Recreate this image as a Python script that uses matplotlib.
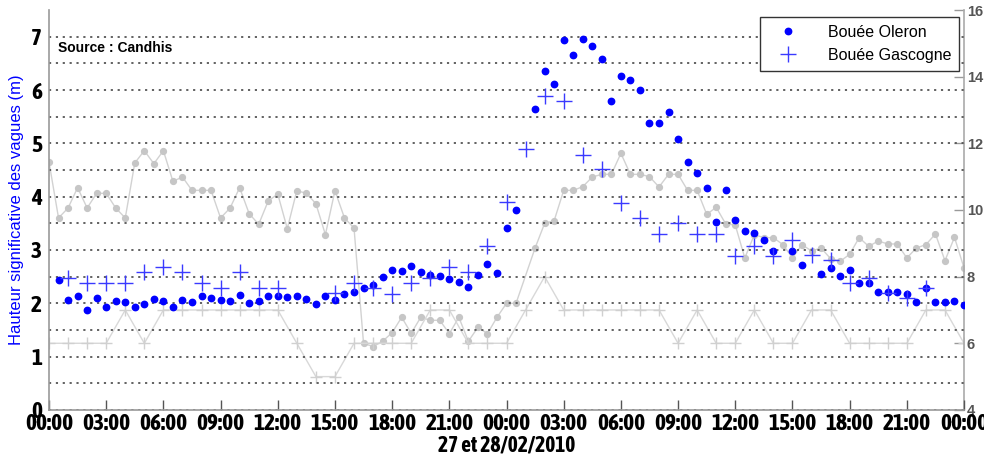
import numpy as np
import matplotlib
matplotlib.use('Agg')
import matplotlib.pyplot as plt
from matplotlib import font_manager
from matplotlib.lines import Line2D

# ---[DATA]---
# Bouee Oleron, hauteur (m), pas de 30 min (quelques trous)
oleron_t = [0.5, 1, 1.5, 2, 2.5, 3, 3.5, 4, 4.5, 5, 5.5, 6, 6.5, 7, 7.5, 8, 8.5, 9, 9.5, 10,
            10.5, 11, 11.5, 12, 12.5, 13, 13.5, 14, 14.5, 15, 15.5, 16, 16.5, 17, 17.5, 18,
            18.5, 19, 19.5, 20, 20.5, 21, 21.5, 22, 22.5, 23, 23.5, 24, 24.5, 25.5, 26, 26.5,
            27, 27.5, 28, 28.5, 29, 29.5, 30, 30.5, 31, 31.5, 32, 32.5, 33, 33.5, 34, 34.5,
            35, 35.5, 36, 36.5, 37, 37.5, 38, 39, 39.5, 40.5, 41, 41.5, 42, 42.5, 43, 43.5,
            44, 44.5, 45, 45.5, 46, 46.5, 47, 47.5, 48]
oleron_h = [2.43, 2.07, 2.14, 1.88, 2.10, 1.93, 2.05, 2.02, 1.93, 1.99, 2.08, 2.05, 1.93, 2.07,
            2.02, 2.13, 2.10, 2.06, 2.05, 2.16, 2.00, 2.05, 2.13, 2.14, 2.11, 2.14, 2.08, 1.98,
            2.13, 2.06, 2.18, 2.22, 2.28, 2.35, 2.49, 2.62, 2.61, 2.70, 2.58, 2.53, 2.51, 2.45,
            2.40, 2.30, 2.53, 2.74, 2.57, 3.41, 3.75, 5.64, 6.35, 6.11, 6.94, 6.65, 6.95, 6.82,
            6.58, 5.79, 6.27, 6.19, 6.00, 5.39, 5.39, 5.58, 5.08, 4.65, 4.44, 4.16, 3.52, 4.12,
            3.57, 3.35, 3.31, 3.18, 2.99, 2.99, 2.71, 2.55, 2.66, 2.52, 2.63, 2.39, 2.39, 2.22,
            2.22, 2.22, 2.18, 2.03, 2.28, 2.03, 2.03, 2.05, 1.97]

# Bouee Gascogne, hauteur (m), pas horaire
gascogne_t = [1, 2, 3, 4, 5, 6, 7, 8, 9, 10, 11, 12, 15, 16, 17, 18, 19, 20, 21, 22, 23, 24,
              25, 26, 27, 28, 29, 30, 31, 32, 33, 34, 35, 36, 37, 38, 39, 40, 41, 42, 43, 44,
              45, 46]
gascogne_h = [2.47, 2.38, 2.38, 2.38, 2.58, 2.69, 2.58, 2.38, 2.28, 2.58, 2.28, 2.29, 2.19,
              2.38, 2.28, 2.18, 2.38, 2.47, 2.69, 2.58, 3.08, 3.90, 4.90, 5.88, 5.80, 4.78,
              4.51, 3.89, 3.60, 3.30, 3.50, 3.30, 3.30, 2.89, 3.08, 2.89, 3.19, 2.90, 2.82,
              2.39, 2.47, 2.19, 2.10, 2.28]

# periode (s), axe de droite - serie grise a ronds
periode1_t = [0, 0.5, 1, 1.5, 2, 2.5, 3, 3.5, 4, 4.5, 5, 5.5, 6, 6.5, 7, 7.5, 8, 8.5, 9, 9.5,
              10, 10.5, 11, 11.5, 12, 12.5, 13, 13.5, 14, 14.5, 15, 15.5, 16, 16.5, 17, 17.5,
              18, 18.5, 19, 19.5, 20, 20.5, 21, 21.5, 22, 22.5, 23, 23.5, 24, 24.5, 25.5, 26,
              26.5, 27, 27.5, 28, 28.5, 29, 29.5, 30, 30.5, 31, 31.5, 32, 32.5, 33, 33.5, 34,
              34.5, 35, 35.5, 36, 36.5, 37, 37.5, 38, 38.5, 39, 39.5, 40, 40.5, 41, 41.5, 42,
              42.5, 43, 43.5, 44, 44.5, 45, 45.5, 46, 46.5, 47, 47.5, 48]
periode1_s = [11.44, 9.76, 10.06, 10.67, 10.06, 10.5, 10.5, 10.06, 9.76, 11.41, 11.78, 11.39,
              11.78, 10.86, 10.99, 10.59, 10.59, 10.59, 9.76, 10.06, 10.67, 9.89, 9.57, 10.27,
              10.48, 9.44, 10.58, 10.5, 10.19, 9.26, 10.58, 9.76, 9.46, 6.0, 5.9, 6.06, 6.32,
              6.78, 6.3, 6.78, 6.69, 6.69, 6.29, 6.78, 6.06, 6.48, 6.29, 6.78, 7.2, 7.2, 8.86,
              9.6, 9.68, 10.59, 10.59, 10.7, 10.99, 11.07, 11.07, 11.7, 11.07, 11.07, 11.0,
              10.69, 11.07, 11.07, 10.59, 10.59, 9.87, 10.08, 9.58, 9.55, 8.56, 9.26, 9.17,
              9.17, 8.96, 8.56, 8.96, 8.77, 8.86, 8.54, 8.46, 8.67, 9.17, 8.91, 9.07, 8.98,
              8.98, 8.56, 8.86, 8.96, 9.28, 8.48, 9.18, 8.26]

# periode (s), axe de droite - serie grise a croix, pas horaire
periode2_t = list(range(0, 49))
periode2_s = [6, 6, 6, 6, 7, 6, 7, 7, 7, 7, 7, 7, 7, 6, 5, 5, 6, 6, 6, 6, 7, 7, 6, 6, 6,
              7, 8, 7, 7, 7, 7, 7, 7, 6, 7, 6, 6, 7, 6, 6, 7, 7, 6, 6, 6, 6, 7, 7, 6]

xticks_h = list(range(0, 49, 3))
xtick_labels = ['00:00', '03:00', '06:00', '09:00', '12:00', '15:00', '18:00', '21:00',
                '00:00', '03:00', '06:00', '09:00', '12:00', '15:00', '18:00', '21:00', '00:00']
right_ticks = [4, 6, 8, 10, 12, 14, 16]
right_labels = ['4', '6', '8', '10', '12', '14', '16']


def pick_narrow():
    # police etroite en gras si dispo, sinon Liberation Sans
    bold = {}
    for f in font_manager.fontManager.ttflist:
        if 'Narrow' in f.name or 'Condensed' in f.name:
            w = f.weight if isinstance(f.weight, int) else 700 if 'bold' in str(f.weight) else 400
            bold[f.name] = max(bold.get(f.name, 0), w)
    best = [n for n in sorted(bold) if bold[n] >= 600]
    if best:
        return [best[0], 'DejaVu Sans'], True
    return ['Liberation Sans', 'DejaVu Sans'], False


narrow, is_narrow = pick_narrow()
tick_fs = 16.8 if is_narrow else 13.5

fig = plt.figure(figsize=(9.84, 4.57), dpi=100)
ax = fig.add_axes([0.0498, 0.103, 0.9299, 0.875])
ax2 = ax.twinx()
ax.set_zorder(ax2.get_zorder() + 1)
ax.patch.set_visible(False)

# series grises (axe droit)
ax2.plot(periode1_t, periode1_s, color='#d2d2d2', lw=1.0, marker='o', ms=4.2,
         mfc='#c6c6c6', mec='#c6c6c6', zorder=2)
ax2.plot(periode2_t, periode2_s, color='#d8d8d8', lw=1.0, marker='+', ms=9, mew=1.0,
         mec='#d0d0d0', zorder=2)
ax2.set_ylim(4, 16)
ax2.set_yticks(right_ticks)
ax2.set_yticklabels(right_labels, fontweight='bold', color='#555555', fontsize=10.5,
                    family=['Liberation Sans', 'DejaVu Sans'])
ax2.tick_params(axis='y', direction='in', length=7, color='#999999', width=1.0, pad=2)
for s in ['top', 'left', 'bottom']:
    ax2.spines[s].set_visible(False)
ax2.spines['right'].set_color('#aaaaaa')
ax2.spines['right'].set_linewidth(1.2)

# series bleues (axe gauche)
ax.plot(oleron_t, oleron_h, linestyle='none', marker='o', ms=4.6, color='#0000ff',
        label='Bouée Oleron', zorder=4)
ax.plot(gascogne_t, gascogne_h, linestyle='none', marker='+', ms=11, mew=1.0,
        color='#3a3aff', label='Bouée Gascogne', zorder=4)

ax.set_xlim(0, 48)
ax.set_ylim(0, 7.5)
ax.set_yticks(np.arange(0, 7.5, 0.5), minor=True)
ax.set_yticks(range(0, 8))
ax.set_yticklabels([str(v) for v in range(0, 8)], fontweight='bold', fontsize=tick_fs,
                   family=narrow)
ax.yaxis.grid(True, which='both', linestyle=(0, (1.2, 2.6)), color='#555555', lw=1.3)
ax.tick_params(axis='y', which='both', length=0, pad=5)
ax.set_xticks(xticks_h)
ax.set_xticklabels(xtick_labels, fontweight='bold', fontsize=tick_fs, family=narrow)
ax.tick_params(axis='x', direction='in', length=7, color='#555555', width=1.0, pad=2)

for s in ['top', 'right']:
    ax.spines[s].set_visible(False)
for s in ['left', 'bottom']:
    ax.spines[s].set_color('#999999')
    ax.spines[s].set_linewidth(1.2)

ax.set_ylabel('Hauteur significative des vagues (m)', color='#0000ff', fontsize=12,
              family=['Liberation Sans', 'DejaVu Sans'], labelpad=5)
ax.set_xlabel('27 et 28/02/2010', fontweight='bold', fontsize=tick_fs - 1.3, family=narrow,
              labelpad=0)

ax.text(0.010, 0.905, 'Source : Candhis', transform=ax.transAxes, fontsize=10,
        fontweight='bold', family=['Liberation Sans', 'DejaVu Sans'], ha='left',
        va='center', zorder=5)

handles = [Line2D([], [], linestyle='none', marker='o', ms=4.6, color='#0000ff'),
           Line2D([], [], linestyle='none', marker='+', ms=11, mew=1.0, color='#3a3aff')]
leg = ax.legend(handles, ['Bouée Oleron', 'Bouée Gascogne'], loc='upper right',
                bbox_to_anchor=(0.9945, 0.983), frameon=True, fancybox=False,
                prop={'family': ['Liberation Sans', 'DejaVu Sans'], 'size': 11.5},
                framealpha=1, edgecolor='#333333', borderpad=0.5, labelspacing=0.5,
                handletextpad=1.3, handlelength=2.4, borderaxespad=0)
leg.get_frame().set_linewidth(1.0)
leg.set_zorder(6)

fig.savefig('out.png', dpi=100)
